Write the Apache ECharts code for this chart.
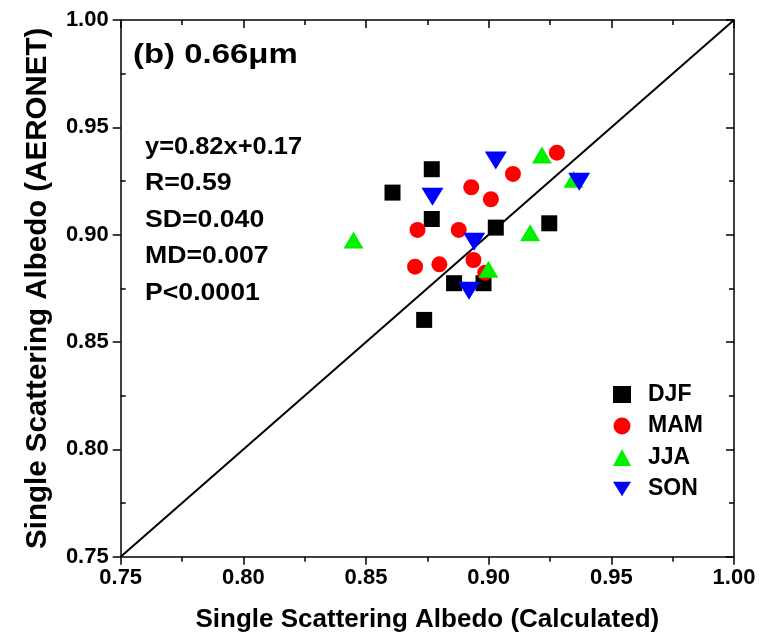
<!DOCTYPE html>
<html>
<head>
<meta charset="utf-8">
<script src="https://cdn.jsdelivr.net/npm/echarts@6/dist/echarts.min.js"></script>
<style>html,body{margin:0;padding:0;background:#fff}#c{width:765px;height:641px}</style>
</head>
<body>
<div id="c"></div>
<script>
// ---- data ----
var seasons = ['DJF', 'MAM', 'JJA', 'SON'];
var djfX = [0.8768, 0.8608, 0.8768, 0.9029, 0.9247, 0.8859, 0.8979, 0.8737];
var djfY = [0.9305, 0.9196, 0.9073, 0.9033, 0.9053, 0.8774, 0.8774, 0.8603];
var mamX = [0.9278, 0.9099, 0.8929, 0.9009, 0.8710, 0.8878, 0.8700, 0.8799, 0.8938, 0.8986];
var mamY = [0.9382, 0.9283, 0.9221, 0.9165, 0.9022, 0.9022, 0.8851, 0.8862, 0.8882, 0.8823];
var jjaX = [0.9217, 0.9346, 0.9169, 0.8999, 0.8449];
var jjaY = [0.9371, 0.9258, 0.9009, 0.8839, 0.8975];
var sonX = [0.9029, 0.9369, 0.8771, 0.8941, 0.8920];
var sonY = [0.9345, 0.9247, 0.9177, 0.8967, 0.8739];
var lineX = [0.75, 1.00];
var lineY = [0.75, 1.00];
var axisMin = 0.75, axisMax = 1.00, axisStep = 0.05;
var statsLines = ['y=0.82x+0.17', 'R=0.59', 'SD=0.040', 'MD=0.007', 'P<0.0001'];
var panelLabel = '(b) 0.66\u03bcm';
var xTitle = 'Single Scattering Albedo (Calculated)';
var yTitle = 'Single Scattering Albedo (AERONET)';

function zip(a, b) { return a.map(function (v, i) { return [v, b[i]]; }); }

var FONT = '"Liberation Sans", Arial, sans-serif';
var chart = echarts.init(document.getElementById('c'), null, { renderer: 'canvas' });

function baseAxis(extra) {
  var o = {
    type: 'value', min: axisMin, max: axisMax, interval: axisStep,
    splitLine: { show: false },
    axisLine: { show: true, onZero: false, lineStyle: { color: '#000', width: 1.5 } },
    axisTick: { show: true, inside: false, length: 8, lineStyle: { color: '#000', width: 1.5 } },
    minorTick: { show: true, splitNumber: 2, length: 5, lineStyle: { color: '#000', width: 1.5 } },
    axisLabel: { show: false }
  };
  for (var k in extra) o[k] = extra[k];
  return o;
}

function tickLabels(margin) {
  return {
    show: true, color: '#000', fontFamily: FONT, fontWeight: 'bold', fontSize: 22, margin: margin,
    formatter: function (v) { return v.toFixed(2); }
  };
}

var graphics = [{
  type: 'text', x: 133, y: 56, scaleX: 1.22,
  style: { text: panelLabel, font: 'bold 27px ' + FONT, fill: '#000', textAlign: 'left', textVerticalAlign: 'middle' }
}];
statsLines.forEach(function (t, i) {
  graphics.push({
    type: 'text', x: 145, y: 147 + i * 36.5, scaleX: i === 0 ? 1.06 : 1.11,
    style: { text: t, font: 'bold 24px ' + FONT, fill: '#000', textAlign: 'left', textVerticalAlign: 'middle' }
  });
});

var option = {
  backgroundColor: '#fff',
  animation: false,
  grid: { left: 120.7, right: 31, top: 20, bottom: 84.3, containLabel: false },
  xAxis: [
    baseAxis({
      position: 'bottom', axisLabel: tickLabels(10),
      name: xTitle, nameLocation: 'middle', nameGap: 50,
      nameTextStyle: { color: '#000', fontFamily: FONT, fontWeight: 'bold', fontSize: 26 }
    }),
    baseAxis({
      position: 'top',
      axisTick: { show: true, inside: true, length: 8, lineStyle: { color: '#000', width: 1.5 } }
    })
  ],
  yAxis: [
    baseAxis({
      position: 'left', axisLabel: tickLabels(12), minorTick: { show: false },
      name: yTitle, nameLocation: 'middle', nameGap: 68,
      nameTextStyle: { color: '#000', fontFamily: FONT, fontWeight: 'bold', fontSize: 29.5 }
    }),
    baseAxis({
      position: 'left',
      axisLine: { show: false },
      axisTick: { show: false, inside: true, length: 8 },
      minorTick: { show: true, splitNumber: 2, length: 5, lineStyle: { color: '#000', width: 1.5 } }
    }),
    baseAxis({
      position: 'right',
      axisTick: { show: true, inside: true, length: 8, lineStyle: { color: '#000', width: 1.5 } }
    })
  ],
  legend: {
    orient: 'vertical', left: 608, top: 378,
    itemWidth: 18, itemHeight: 17, itemGap: 8.5,
    data: [
      { name: seasons[0], icon: 'rect' },
      { name: seasons[1], icon: 'circle' },
      { name: seasons[2], icon: 'triangle' },
      { name: seasons[3], icon: 'path://M0,0 L22,0 L11,18 Z' }
    ],
    textStyle: { color: '#000', fontFamily: FONT, fontWeight: 'bold', fontSize: 23, padding: [0, 0, 0, 12] }
  },
  graphic: graphics,
  series: [
    {
      name: '1:1', type: 'line', data: zip(lineX, lineY), symbol: 'none',
      lineStyle: { color: '#000', width: 2 }, silent: true, z: 1
    },
    {
      name: seasons[0], type: 'scatter', data: zip(djfX, djfY),
      symbol: 'rect', symbolSize: 16, itemStyle: { color: '#000', opacity: 1 }, z: 3
    },
    {
      name: seasons[1], type: 'scatter', data: zip(mamX, mamY),
      symbol: 'circle', symbolSize: 16, itemStyle: { color: '#ff0000', opacity: 1 }, z: 3
    },
    {
      name: seasons[2], type: 'scatter', data: zip(jjaX, jjaY),
      symbol: 'triangle', symbolSize: [20, 17], itemStyle: { color: '#00f000', opacity: 1 }, z: 3
    },
    {
      name: seasons[3], type: 'scatter', data: zip(sonX, sonY),
      symbol: 'triangle', symbolRotate: 180, symbolSize: [22, 18], itemStyle: { color: '#0000ff', opacity: 1 }, z: 3
    }
  ]
};
chart.setOption(option);
</script>
</body>
</html>
